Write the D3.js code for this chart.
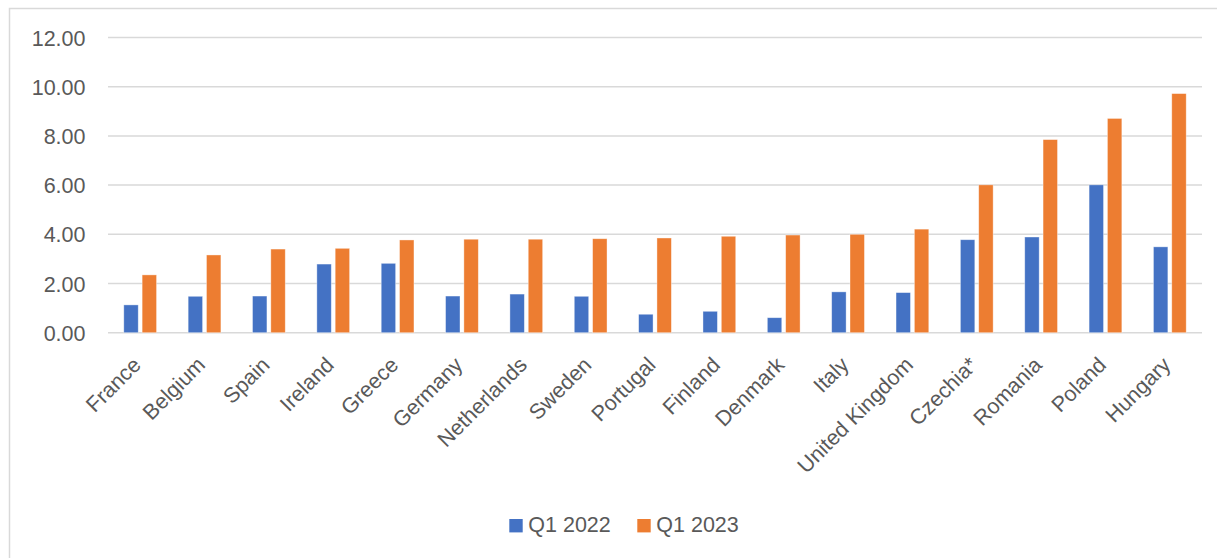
<!DOCTYPE html>
<html>
<head>
<meta charset="utf-8">
<script src="https://cdn.jsdelivr.net/npm/d3@7"></script>
<style>
  html, body { margin: 0; padding: 0; background: #fff; }
  svg { display: block; font-family: "Liberation Sans", Arial, sans-serif; }
</style>
</head>
<body>
<svg id="chart" width="1217" height="558"></svg>
<script>
// Countries, ordered by the Q1 2023 value
const countries = ["France", "Belgium", "Spain", "Ireland", "Greece", "Germany", "Netherlands",
  "Sweden", "Portugal", "Finland", "Denmark", "Italy", "United Kingdom", "Czechia*",
  "Romania", "Poland", "Hungary"];
const seriesNames = ["Q1 2022", "Q1 2023"];
const q1_2022 = [1.13, 1.48, 1.49, 2.79, 2.82, 1.49, 1.57, 1.48, 0.75, 0.87, 0.61, 1.66, 1.63, 3.78, 3.89, 6.01, 3.49];
const q1_2023 = [2.35, 3.16, 3.40, 3.43, 3.77, 3.80, 3.80, 3.82, 3.85, 3.92, 3.97, 4.00, 4.21, 6.01, 7.85, 8.71, 9.72];
const yTicks = [0, 2, 4, 6, 8, 10, 12];
const colors = ["#4472C4", "#ED7D31"];

const svg = d3.select("#chart");
const W = 1217, H = 558;
const plot = { left: 108, right: 1202, top: 37.5, bottom: 332.7 };
const fontSize = "21.5px";
const textColor = "#595959";

// Chart frame (top and left edges)
svg.append("path")
  .attr("d", `M9.5,${H} V8.5 H${W}`)
  .attr("fill", "none")
  .attr("stroke", "#d9d9d9")
  .attr("stroke-width", 1.5);

const x = d3.scaleBand().domain(countries).range([plot.left, plot.right]).paddingInner(0).paddingOuter(0);
const y = d3.scaleLinear().domain([0, 12]).range([plot.bottom, plot.top]);

// Gridlines
svg.append("g")
  .selectAll("line")
  .data(yTicks)
  .join("line")
  .attr("x1", plot.left).attr("x2", plot.right)
  .attr("y1", d => y(d)).attr("y2", d => y(d))
  .attr("stroke", "#d9d9d9")
  .attr("stroke-width", 1.5);

// Y axis labels
const yAxis = d3.axisLeft(y).tickValues(yTicks).tickFormat(d3.format(".2f")).tickSize(0).tickPadding(0);
const yg = svg.append("g").attr("transform", `translate(85.5,0)`).call(yAxis);
yg.select(".domain").remove();
yg.selectAll("text")
  .attr("fill", textColor)
  .style("font-size", fontSize)
  .attr("dy", "0.35em");

// Bars: gap width 219%, overlap -27%
const bw = x.bandwidth() / (2 + 0.27 + 2.19);
const groupW = bw * 2.27;
const seriesData = [q1_2022, q1_2023];
seriesData.forEach((vals, si) => {
  svg.append("g")
    .selectAll("rect")
    .data(countries.map((c, i) => ({ c, v: vals[i] })))
    .join("rect")
    .attr("x", d => x(d.c) + (x.bandwidth() - groupW) / 2 + si * bw * 1.27)
    .attr("y", d => y(d.v))
    .attr("width", bw)
    .attr("height", d => y(0) - y(d.v))
    .attr("fill", colors[si])
    .attr("stroke", "#ffffff")
    .attr("stroke-opacity", 0.5)
    .attr("stroke-width", 0.75);
});

// Category labels, rotated
svg.append("g")
  .selectAll("text")
  .data(countries)
  .join("text")
  .attr("transform", d => `translate(${x(d) + x.bandwidth() / 2 + 2},${plot.bottom + 33.5}) rotate(-45)`)
  .attr("text-anchor", "end")
  .attr("fill", textColor)
  .style("font-size", fontSize)
  .text(d => d);

// Legend
const legend = svg.append("g");
const legendItems = [
  { name: seriesNames[0], color: colors[0], x: 509.3 },
  { name: seriesNames[1], color: colors[1], x: 637.3 }
];
legendItems.forEach(it => {
  legend.append("rect")
    .attr("x", it.x).attr("y", 519)
    .attr("width", 13.4).attr("height", 13.4)
    .attr("fill", it.color);
  legend.append("text")
    .attr("x", it.x + 19).attr("y", 532.3)
    .attr("fill", textColor)
    .style("font-size", fontSize)
    .text(it.name);
});
</script>
</body>
</html>
